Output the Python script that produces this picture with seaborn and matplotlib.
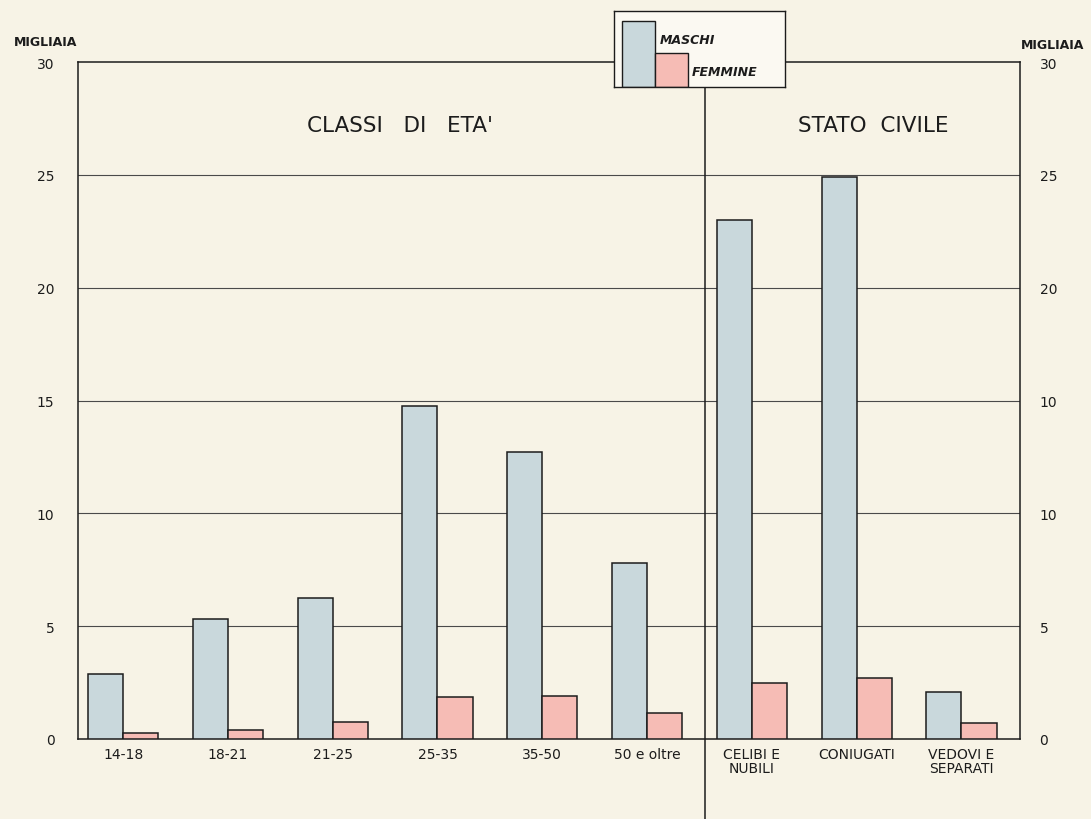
import matplotlib
matplotlib.use("Agg")
import matplotlib.pyplot as plt
import matplotlib.transforms as mtransforms
from matplotlib.patches import Rectangle
import seaborn as sns
import pandas as pd

# Categories: age classes, then civil status
categorie = ["14-18", "18-21", "21-25", "25-35", "35-50", "50 e oltre",
             "CELIBI E\nNUBILI", "CONIUGATI", "VEDOVI E\nSEPARATI"]
maschi = [2.9, 5.3, 6.25, 14.75, 12.7, 7.8, 23.0, 24.9, 2.1]
femmine = [0.25, 0.4, 0.75, 1.85, 1.9, 1.15, 2.5, 2.7, 0.7]
yticks = [0, 5, 10, 15, 20, 25, 30]
right_tick_labels = ["0", "5", "10", "10", "20", "25", "30"]

BG = "#f7f3e6"
BLUE = "#c9d8dc"
PINK = "#f6bcb5"
INK = "#1c1c1c"

sns.set_theme(style="white")
plt.rcParams["font.family"] = ["DejaVu Sans"]

df = pd.DataFrame({
    "categoria": categorie * 2,
    "valore": maschi + femmine,
    "sesso": ["MASCHI"] * len(categorie) + ["FEMMINE"] * len(categorie),
})

fig = plt.figure(figsize=(10.91, 8.2), dpi=100, facecolor=BG)
ax = fig.add_axes([0.0715, 0.0976, 0.8635, 0.8255])
ax.set_facecolor(BG)

sns.barplot(data=df, x="categoria", y="valore", hue="sesso",
            order=categorie, hue_order=["MASCHI", "FEMMINE"],
            palette=[BLUE, PINK], saturation=1, width=0.67, gap=0,
            edgecolor=INK, linewidth=1.1, legend=False, ax=ax, zorder=3)

ax.set_xlim(-0.43, 8.56)
ax.set_ylim(0, 30)
ax.set_xlabel("")
ax.set_ylabel("")

# horizontal rules
for y in yticks[1:-1]:
    ax.axhline(y, color="#4a4a4a", lw=0.8, zorder=1)

for s in ax.spines.values():
    s.set_visible(True)
    s.set_color(INK)
    s.set_linewidth(1.1)

ax.set_yticks(yticks)
ax.set_yticklabels([str(v) for v in yticks])
ax.tick_params(axis="y", length=0, pad=17, labelsize=10, labelcolor=INK)
ax.tick_params(axis="x", length=0, pad=6, labelsize=10, labelcolor=INK)
for lab in ax.get_xticklabels():
    lab.set_linespacing(0.95)
    lab.set_verticalalignment("top")

axr = ax.twinx()
axr.set_ylim(0, 30)
axr.set_yticks(yticks)
axr.set_yticklabels(right_tick_labels)
axr.tick_params(axis="y", length=0, pad=14, labelsize=10, labelcolor=INK)
for s in axr.spines.values():
    s.set_visible(False)

# unit labels
fig.text(0.042, 0.948, "MIGLIAIA", ha="center", va="center",
         fontsize=9, fontweight="bold", color=INK)
fig.text(0.965, 0.945, "MIGLIAIA", ha="center", va="center",
         fontsize=9, fontweight="bold", color=INK)

# section titles
ax.text(2.64, 27.2, "CLASSI   DI   ETA'", ha="center", va="center",
        fontsize=15.5, color=INK)
ax.text(7.16, 27.2, "STATO  CIVILE", ha="center", va="center",
        fontsize=15.5, color=INK)

# divider between the two sections, running past the bottom of the plot
trans = mtransforms.blended_transform_factory(ax.transData, ax.transAxes)
ax.plot([5.55, 5.55], [-0.13, 0.965], color=INK, lw=1.1,
        transform=trans, clip_on=False, zorder=4)

# key box
lg = fig.add_axes([614 / 1091, 1 - 88 / 820, 171 / 1091, 76 / 820])
lg.set_xlim(0, 171)
lg.set_ylim(0, 76)
lg.set_facecolor("#fbf9f2")
for s in lg.spines.values():
    s.set_color(INK)
    s.set_linewidth(1.0)
lg.set_xticks([])
lg.set_yticks([])
lg.add_patch(Rectangle((8, 0), 33, 66, facecolor=BLUE, edgecolor=INK, lw=1.0))
lg.add_patch(Rectangle((41, 0), 33, 34, facecolor=PINK, edgecolor=INK, lw=1.0))
lg.text(46, 48, "MASCHI", fontsize=9, fontstyle="italic", fontweight="bold",
        va="center", ha="left", color=INK)
lg.text(78, 16, "FEMMINE", fontsize=9, fontstyle="italic", fontweight="bold",
        va="center", ha="left", color=INK)

fig.savefig("out.png", dpi=100, facecolor=BG)
